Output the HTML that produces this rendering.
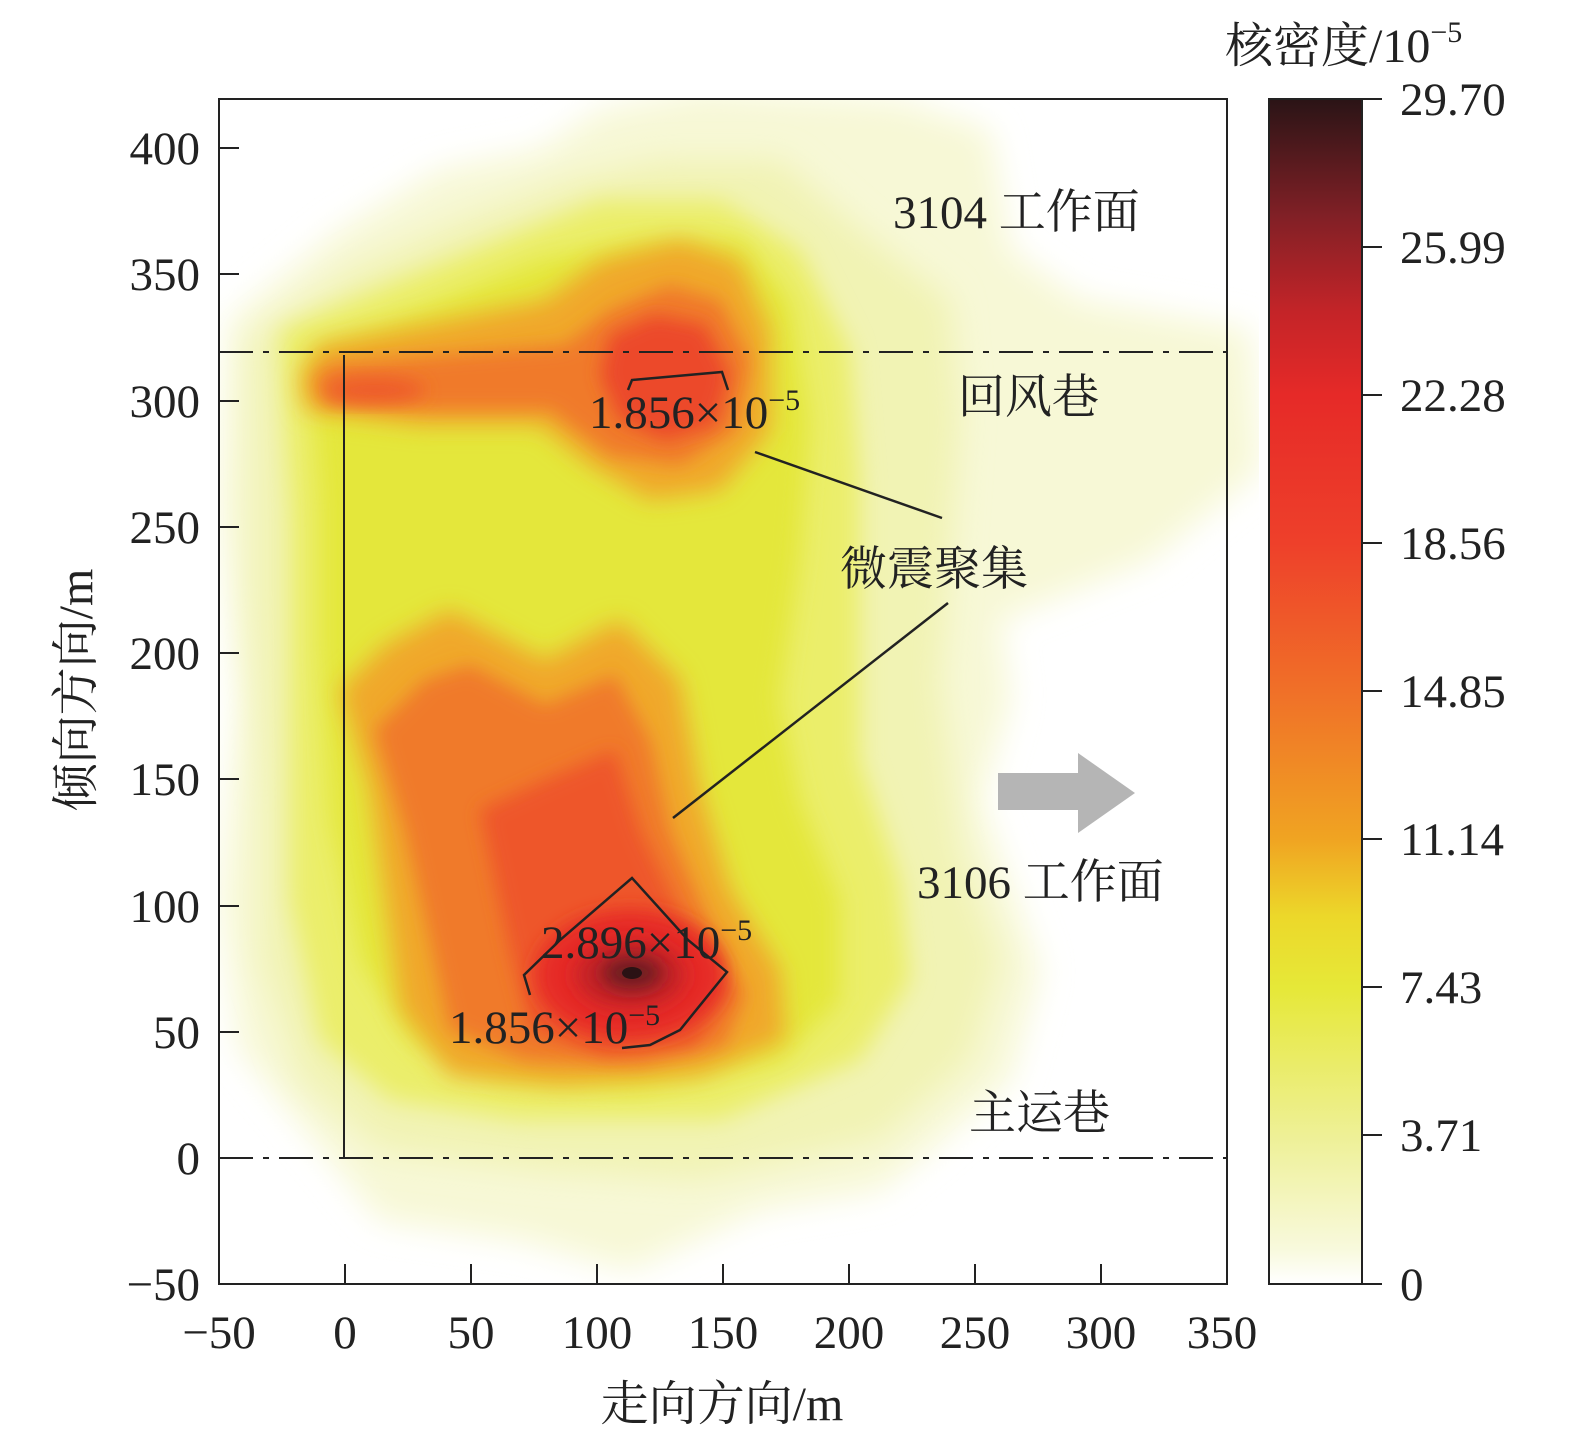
<!DOCTYPE html>
<html><head><meta charset="utf-8"><style>
html,body{margin:0;padding:0;background:#fff;}
svg text{font-family:"Liberation Serif","Noto Serif CJK SC",serif;fill:#222;}
</style></head><body>
<svg width="1575" height="1440" viewBox="0 0 1575 1440" xmlns="http://www.w3.org/2000/svg">
<defs>
<filter id="b1" x="-30%" y="-30%" width="160%" height="160%"><feGaussianBlur stdDeviation="16"/></filter>
<filter id="b2" x="-30%" y="-30%" width="160%" height="160%"><feGaussianBlur stdDeviation="12"/></filter>
<filter id="b3" x="-50%" y="-50%" width="200%" height="200%"><feGaussianBlur stdDeviation="9"/></filter>
<clipPath id="pc"><rect x="219" y="99" width="1040" height="1185"/></clipPath>
<linearGradient id="cb" x1="0" y1="1" x2="0" y2="0">
<stop offset="0" stop-color="#ffffff"/>
<stop offset="0.03" stop-color="#f8f9dc"/>
<stop offset="0.125" stop-color="#eef096"/>
<stop offset="0.25" stop-color="#e6e838"/>
<stop offset="0.31" stop-color="#ecd82a"/>
<stop offset="0.375" stop-color="#f0a422"/>
<stop offset="0.5" stop-color="#f07028"/>
<stop offset="0.625" stop-color="#ee402a"/>
<stop offset="0.75" stop-color="#e62a28"/>
<stop offset="0.82" stop-color="#c42428"/>
<stop offset="0.9" stop-color="#822026"/>
<stop offset="1" stop-color="#2a1416"/>
</linearGradient>
</defs>
<g clip-path="url(#pc)">
<path filter="url(#b1)" fill="#f7f8d6" d="M230 320 L340 230 L440 170 L540 150 L600 110 L700 90 L900 100 L990 130 L1010 250 L1080 300 L1250 330 L1260 470 L1150 560 L1000 620 L1010 700 L980 800 L1040 970 L1010 1080 L930 1150 L880 1190 L760 1210 L630 1270 L520 1240 L380 1220 L290 1110 L240 1050 L220 900 L240 700 L220 500 Z"/>
<path filter="url(#b1)" fill="#f1f3b4" d="M250 340 L350 270 L460 220 L570 180 L660 160 L780 160 L860 230 L950 300 L960 420 L950 560 L940 680 L960 850 L1000 960 L970 1060 L880 1140 L700 1180 L540 1170 L380 1150 L300 1080 L260 960 L260 800 L250 600 L250 450 Z"/>
<path filter="url(#b2)" fill="#ebee6a" d="M280 330 L400 280 L500 240 L600 200 L720 200 L800 250 L850 350 L860 480 L860 600 L860 760 L900 880 L910 980 L860 1060 L720 1120 L520 1120 L390 1100 L320 1040 L290 900 L290 700 L290 520 Z"/>
<path filter="url(#b2)" fill="#e4e73a" d="M310 350 L420 310 L540 260 L640 240 L740 240 L790 300 L810 420 L800 560 L780 700 L800 800 L840 900 L840 1000 L780 1060 L640 1090 L500 1080 L410 1040 L360 960 L330 820 L320 650 L320 500 Z"/>
<!-- top -->
<path filter="url(#b2)" fill="#f0a82a" d="M300 375 L305 410 L420 425 L540 425 L590 465 L650 500 L720 490 L770 430 L770 330 L740 260 L680 240 L600 260 L545 300 L420 325 L320 345 Z"/>
<path filter="url(#b3)" fill="#f07a2a" d="M315 380 L325 405 L430 410 L550 410 L610 455 L680 465 L735 430 L750 360 L720 300 L670 285 L610 310 L565 345 L440 355 L330 365 Z"/>
<path filter="url(#b3)" fill="#ec4a2a" d="M610 335 L655 315 L705 325 L730 375 L715 425 L665 440 L620 420 L600 375 Z"/>
<ellipse filter="url(#b3)" cx="375" cy="390" rx="50" ry="12" fill="#ee5a2a"/>
<!-- bottom -->
<path filter="url(#b2)" fill="#f0a82a" d="M340 690 L385 645 L450 610 L545 660 L620 620 L680 680 L700 790 L730 890 L780 970 L785 1040 L700 1075 L560 1085 L450 1075 L400 1010 L385 900 L370 790 Z"/>
<path filter="url(#b3)" fill="#f07a2a" d="M375 730 L425 680 L470 665 L545 705 L615 675 L650 740 L670 830 L710 925 L745 995 L725 1045 L640 1065 L525 1060 L450 1030 L430 940 L405 830 Z"/>
<path filter="url(#b3)" fill="#ee562a" d="M480 810 L545 780 L615 750 L640 830 L685 925 L730 990 L695 1045 L605 1055 L530 1030 L510 950 L495 880 Z"/>
<ellipse filter="url(#b3)" cx="630" cy="975" rx="95" ry="65" fill="#e62a28"/>
<ellipse filter="url(#b3)" cx="630" cy="975" rx="55" ry="34" fill="#c42428"/>
<ellipse filter="url(#b3)" cx="632" cy="973" rx="30" ry="16" fill="#6a1c20"/>
<ellipse cx="632" cy="973" rx="10" ry="6" fill="#2a1214"/>
</g>
<polyline points="628,390 632,380 722,372 728,390" fill="none" stroke="#222" stroke-width="2.5"/>
<polyline points="530,995 524,975 560,940 632,878 688,940 727,972 680,1030 650,1045 622,1048" fill="none" stroke="#222" stroke-width="2.5"/>
<line x1="755" y1="452" x2="942" y2="518" stroke="#222" stroke-width="2.5"/>
<line x1="948" y1="603" x2="673" y2="818" stroke="#222" stroke-width="2.5"/>
<line x1="219" y1="352" x2="1227" y2="352" stroke="#222" stroke-width="2" stroke-dasharray="34,10,6,10"/>
<line x1="219" y1="1158" x2="1227" y2="1158" stroke="#222" stroke-width="2" stroke-dasharray="34,10,6,10"/>
<line x1="344" y1="355" x2="344" y2="1158" stroke="#222" stroke-width="2"/>
<polygon points="998,773 1078,773 1078,753 1135,793 1078,833 1078,810 998,810" fill="#b5b5b5"/>
<rect x="219" y="99" width="1008" height="1185" fill="none" stroke="#222" stroke-width="2"/>
<g stroke="#222" stroke-width="2">
<line x1="219" y1="1284" x2="219" y2="1264"/><line x1="345" y1="1284" x2="345" y2="1264"/><line x1="471" y1="1284" x2="471" y2="1264"/><line x1="597" y1="1284" x2="597" y2="1264"/><line x1="723" y1="1284" x2="723" y2="1264"/><line x1="849" y1="1284" x2="849" y2="1264"/><line x1="975" y1="1284" x2="975" y2="1264"/><line x1="1101" y1="1284" x2="1101" y2="1264"/>
<line x1="219" y1="1158" x2="239" y2="1158"/><line x1="219" y1="1032" x2="239" y2="1032"/><line x1="219" y1="906" x2="239" y2="906"/><line x1="219" y1="779" x2="239" y2="779"/><line x1="219" y1="653" x2="239" y2="653"/><line x1="219" y1="527" x2="239" y2="527"/><line x1="219" y1="401" x2="239" y2="401"/><line x1="219" y1="274" x2="239" y2="274"/><line x1="219" y1="148" x2="239" y2="148"/>
</g>
<g font-size="47" text-anchor="middle">
<text x="219" y="1348">−50</text><text x="345" y="1348">0</text><text x="471" y="1348">50</text><text x="597" y="1348">100</text><text x="723" y="1348">150</text><text x="849" y="1348">200</text><text x="975" y="1348">250</text><text x="1101" y="1348">300</text><text x="1222" y="1348">350</text>
</g>
<g font-size="47" text-anchor="end">
<text x="200" y="1300">−50</text><text x="200" y="1174">0</text><text x="200" y="1048">50</text><text x="200" y="922">100</text><text x="200" y="795">150</text><text x="200" y="669">200</text><text x="200" y="543">250</text><text x="200" y="417">300</text><text x="200" y="290">350</text><text x="200" y="164">400</text>
</g>
<text x="722" y="1420" font-size="48" text-anchor="middle">走向方向/m</text>
<text transform="translate(92,690) rotate(-90)" font-size="48" text-anchor="middle">倾向方向/m</text>
<g font-size="47">
<text x="893" y="228">3104 工作面</text>
<text x="958" y="413">回风巷</text>
<text x="840" y="585">微震聚集</text>
<text x="917" y="898">3106 工作面</text>
<text x="969" y="1129">主运巷</text>
<text x="589" y="428">1.856×10<tspan dy="-18" font-size="30">−5</tspan></text>
<text x="541" y="958">2.896×10<tspan dy="-18" font-size="30">−5</tspan></text>
<text x="449" y="1043">1.856×10<tspan dy="-18" font-size="30">−5</tspan></text>
</g>
<rect x="1269" y="99" width="93" height="1185" fill="url(#cb)"/>
<rect x="1269" y="99" width="93" height="1185" fill="none" stroke="#222" stroke-width="2"/>
<g stroke="#222" stroke-width="2">
<line x1="1362" y1="99" x2="1382" y2="99"/><line x1="1362" y1="247" x2="1382" y2="247"/><line x1="1362" y1="395" x2="1382" y2="395"/><line x1="1362" y1="543" x2="1382" y2="543"/><line x1="1362" y1="691" x2="1382" y2="691"/><line x1="1362" y1="839" x2="1382" y2="839"/><line x1="1362" y1="987" x2="1382" y2="987"/><line x1="1362" y1="1135" x2="1382" y2="1135"/><line x1="1362" y1="1284" x2="1382" y2="1284"/>
</g>
<g font-size="47">
<text x="1400" y="115">29.70</text><text x="1400" y="263">25.99</text><text x="1400" y="411">22.28</text><text x="1400" y="559">18.56</text><text x="1400" y="707">14.85</text><text x="1400" y="855">11.14</text><text x="1400" y="1003">7.43</text><text x="1400" y="1151">3.71</text><text x="1400" y="1300">0</text>
</g>
<text x="1225" y="62" font-size="48">核密度/10<tspan dy="-20" font-size="30">−5</tspan></text>
</svg>
</body></html>
